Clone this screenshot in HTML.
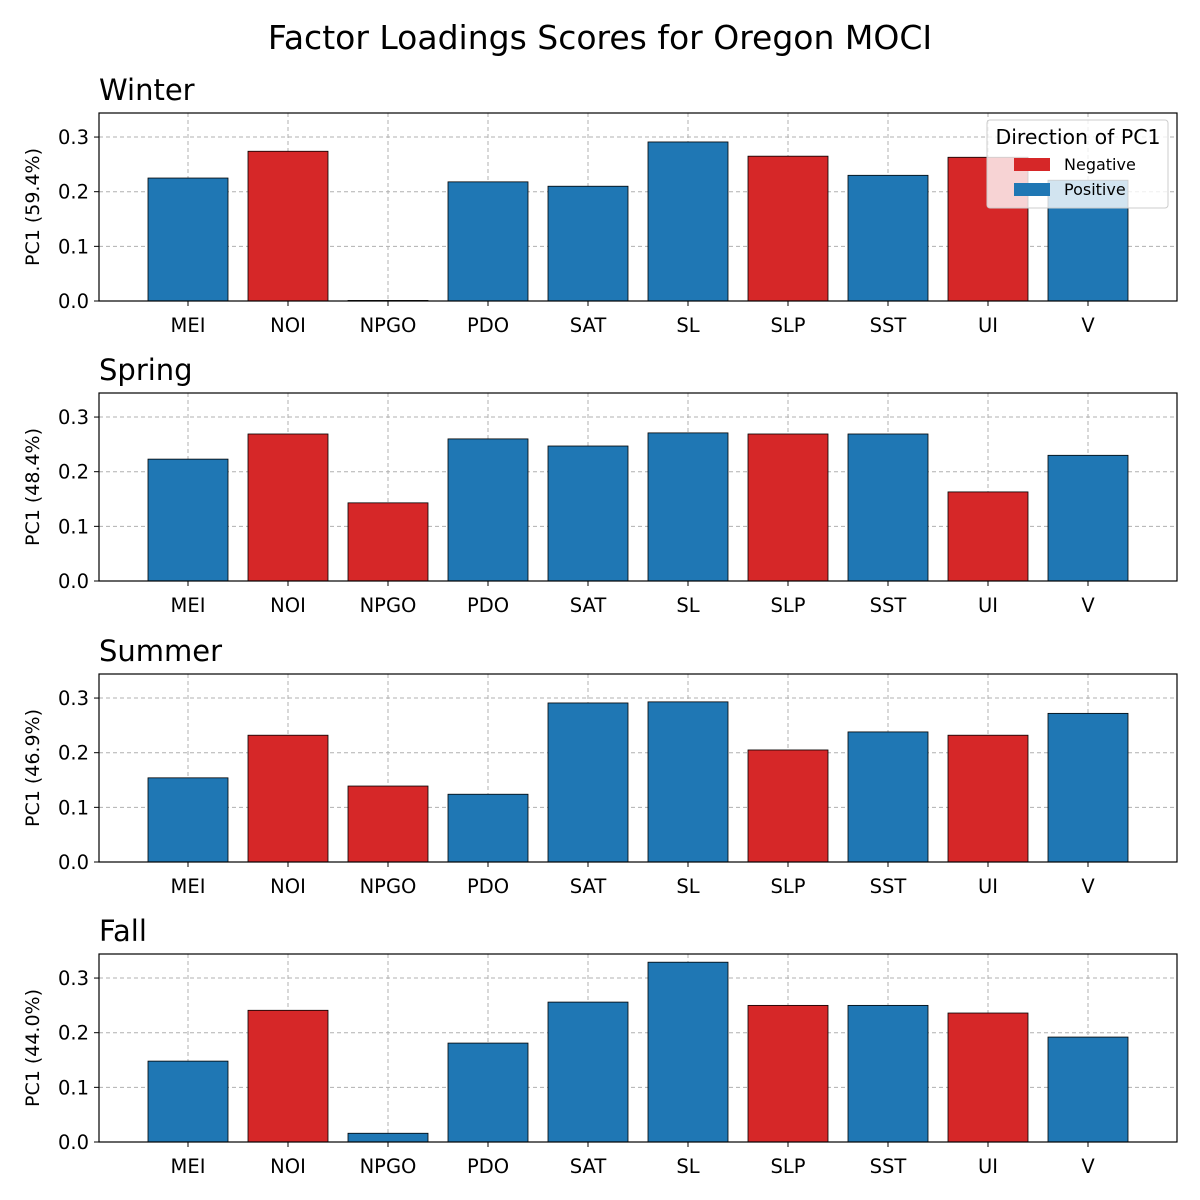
<!DOCTYPE html>
<html><head><meta charset="utf-8"><style>
body{margin:0;background:#fff;}
svg{display:block;font-family:"DejaVu Sans","Liberation Sans",sans-serif;}
</style></head><body>
<svg id="chart" width="1200" height="1200" viewBox="0 0 1200 1200">
<rect width="1200" height="1200" fill="#fff"/>
<text x="600" y="49" text-anchor="middle" font-size="33">Factor Loadings Scores for Oregon MOCI</text>
</svg>
<script>
const categories=["MEI","NOI","NPGO","PDO","SAT","SL","SLP","SST","UI","V"];
const seasons=["Winter","Spring","Summer","Fall"];
const variance=["59.4%","48.4%","46.9%","44.0%"];
const winterValues=[0.225,0.274,0.001,0.218,0.210,0.291,0.265,0.230,0.263,0.221];
const springValues=[0.223,0.269,0.143,0.260,0.247,0.271,0.269,0.269,0.163,0.230];
const summerValues=[0.154,0.232,0.139,0.124,0.291,0.293,0.205,0.238,0.232,0.272];
const fallValues=[0.148,0.241,0.016,0.181,0.256,0.329,0.250,0.250,0.236,0.192];
const winterNegative=[0,1,0,0,0,0,1,0,1,0];
const springNegative=[0,1,1,0,0,0,1,0,1,0];
const summerNegative=[0,1,1,0,0,0,1,0,1,0];
const fallNegative=[0,1,0,0,0,0,1,0,1,0];
const yTicks=[0,0.1,0.2,0.3];
const yTickLabels=["0.0","0.1","0.2","0.3"];
const legendLabels=["Negative","Positive"];

const allValues=[winterValues,springValues,summerValues,fallValues];
const allNeg=[winterNegative,springNegative,summerNegative,fallNegative];
const NS="http://www.w3.org/2000/svg";
const svg=document.getElementById('chart');
const RED="#d62728",BLUE="#1f77b4";
function mk(tag,attrs,parent){const e=document.createElementNS(NS,tag);for(const k in attrs)e.setAttribute(k,attrs[k]);(parent||svg).appendChild(e);return e;}
const L=99,R=1177,tops=[113,393,674,954],H=188,YMAX=0.344,XMIN=-0.89,XMAX=9.89;
function xs(i){return L+(i-XMIN)/(XMAX-XMIN)*(R-L);}
const bw=(80/1078)*(XMAX-XMIN);
seasons.forEach((s,p)=>{
  const top=tops[p],bot=top+H;
  const ys=v=>bot-v/YMAX*H;
  const g=mk('g',{});
  
  
  const t=mk('text',{x:L,y:top-13,'font-size':29},g);t.textContent=s;
  
  categories.forEach((c,i)=>{const l=mk('line',{x1:xs(i),x2:xs(i),y1:top,y2:bot,stroke:'#b0b0b0','stroke-dasharray':'4,3','stroke-width':1},g);
    });
  yTicks.forEach((v,k)=>{const l=mk('line',{x1:L,x2:R,y1:ys(v),y2:ys(v),stroke:'#b0b0b0','stroke-dasharray':'4,3','stroke-width':1},g);
    
    const tk=mk('line',{x1:L-5,x2:L,y1:ys(v),y2:ys(v),stroke:'#000'},g);
    
    const tl=mk('text',{x:L-10,y:ys(v)+7,'text-anchor':'end','font-size':19.5},g);tl.textContent=yTickLabels[k];
    });
  allValues[p].forEach((v,i)=>{
    const x0=xs(i-bw/2),x1=xs(i+bw/2);
    const b=mk('rect',{x:x0,y:ys(v),width:x1-x0,height:bot-ys(v),fill:allNeg[p][i]?RED:BLUE,stroke:'#000','stroke-width':0.8},g);
    
    
  });
  categories.forEach((c,i)=>{
    const tk=mk('line',{x1:xs(i),x2:xs(i),y1:bot,y2:bot+5,stroke:'#000'},g);
    
    const tl=mk('text',{x:xs(i),y:bot+31,'text-anchor':'middle','font-size':19.5},g);tl.textContent=c;
    
  });
  const fr=mk('rect',{x:L,y:top,width:R-L,height:H,fill:'none',stroke:'#000','stroke-width':1.2},g);
  
  const yl=mk('text',{x:0,y:0,'text-anchor':'middle','font-size':19,transform:`translate(39,${top+H/2}) rotate(-90)`},g);
  yl.textContent='PC1 ('+variance[p]+')';
  
});
const lg=mk('g',{});

mk('rect',{x:987,y:120,width:181,height:88,rx:3,fill:'#fff','fill-opacity':0.8,stroke:'#ccc'},lg);
const lt=mk('text',{x:1078,y:144,'text-anchor':'middle','font-size':20.5},lg);lt.textContent='Direction of PC1';

legendLabels.forEach((n,k)=>{
  const y=158+k*25;
  const r=mk('rect',{x:1014,y:y,width:36,height:13,fill:k===0?RED:BLUE},lg);
  
  const t=mk('text',{x:1064,y:y+12,'font-size':16},lg);t.textContent=n;
  
});
</script>
</body></html>
